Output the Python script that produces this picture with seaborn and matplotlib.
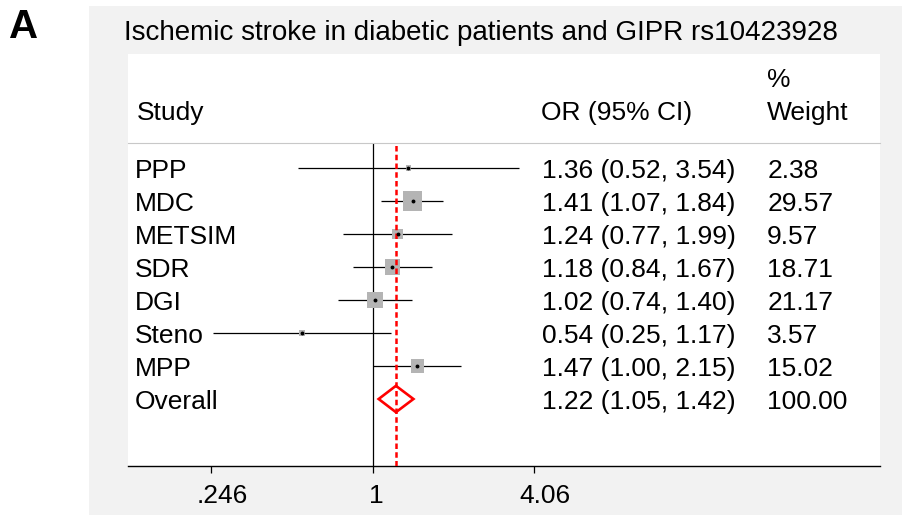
import numpy as np
import matplotlib.pyplot as plt
import matplotlib.transforms as mtransforms
from matplotlib.patches import Rectangle, Polygon
import seaborn as sns

# data
studies = ["PPP", "MDC", "METSIM", "SDR", "DGI", "Steno", "MPP"]
or_est = [1.36, 1.41, 1.24, 1.18, 1.02, 0.54, 1.47]
ci_low = [0.52, 1.07, 0.77, 0.84, 0.74, 0.25, 1.00]
ci_high = [3.54, 1.84, 1.99, 1.67, 1.40, 1.17, 2.15]
weights = [2.38, 29.57, 9.57, 18.71, 21.17, 3.57, 15.02]
overall_label = "Overall"
overall_or = 1.22
overall_low = 1.05
overall_high = 1.42
overall_weight = 100.00
tick_vals = [0.246, 1, 4.06]
tick_labels = [".246", "1", "4.06"]

sns.set_theme(style="white")
plt.rcParams['font.family'] = ['Liberation Sans', 'DejaVu Sans']
plt.rcParams['text.color'] = 'black'
plt.rcParams['xtick.color'] = 'black'

W, H = 903, 515
fig = plt.figure(figsize=(W / 100, H / 100), dpi=100)
fig.patch.set_facecolor("white")


def fx(px):
    return px / W


def fy(py):
    return 1 - py / H


# gray graph region and white plot region
fig.add_artist(Rectangle((fx(89), 0), 1 - fx(89), fy(6), transform=fig.transFigure,
                         facecolor="#f2f2f2", edgecolor="none", zorder=-2))
fig.add_artist(Rectangle((fx(128), fy(466)), fx(880) - fx(128), fy(54) - fy(466),
                         transform=fig.transFigure, facecolor="white", edgecolor="none", zorder=-1))

ax = fig.add_axes([fx(128), fy(466), fx(880) - fx(128), fy(143) - fy(466)])
ax.patch.set_alpha(0)

rows = np.arange(1, len(studies) + 1)
overall_row = len(studies) + 1

ax.set_xscale("log")
ax.set_xlim(0.1192, 81.5)
ax.set_ylim(overall_row + 2.03, 1 - 25 / 33)

# reference lines
ax.axvline(1, color="black", lw=0.9, zorder=1)
ax.axvline(overall_or, color="#ff0000", lw=1.8, dashes=(2.2, 1.3), zorder=4)

# confidence intervals
ax.hlines(rows, ci_low, ci_high, color="black", lw=0.9, zorder=2)

# weight boxes
k = (3.5 * 0.72) ** 2
sns.scatterplot(x=or_est, y=rows, size=weights, sizes=(k * min(weights), k * max(weights)),
                size_norm=(min(weights), max(weights)), marker="s", color="#b4b4b4",
                edgecolor="none", legend=False, ax=ax, zorder=3)
ax.plot(or_est, rows, "o", color="black", ms=1.8, zorder=5)

# overall diamond
diamond = Polygon([(overall_low, overall_row), (overall_or, overall_row - 0.4),
                   (overall_high, overall_row), (overall_or, overall_row + 0.4)],
                  closed=True, fill=False, edgecolor="#ff0000", lw=1.9, zorder=6)
ax.add_patch(diamond)

# text columns
trans = mtransforms.blended_transform_factory(ax.transAxes, ax.transData)
shift = 9.5 / 33
fs = 19
labels = studies + [overall_label]
ors = or_est + [overall_or]
lows = ci_low + [overall_low]
highs = ci_high + [overall_high]
wts = weights + [overall_weight]
for i, name in enumerate(labels):
    y = i + 1 + shift
    ax.text(0.0095, y, name, transform=trans, va="baseline", ha="left", fontsize=fs)
    ax.text(0.550, y, f"{ors[i]:.2f} ({lows[i]:.2f}, {highs[i]:.2f})", transform=trans,
            va="baseline", ha="left", fontsize=fs)
    ax.text(0.850, y, f"{wts[i]:.2f}", transform=trans, va="baseline", ha="left", fontsize=fs)

# header
fig.text(fx(137), fy(120), "Study", va="baseline", ha="left", fontsize=fs)
fig.text(fx(541), fy(120), "OR (95% CI)", va="baseline", ha="left", fontsize=fs)
fig.text(fx(767), fy(87), "%", va="baseline", ha="left", fontsize=fs)
fig.text(fx(767), fy(120), "Weight", va="baseline", ha="left", fontsize=fs)
fig.text(fx(124), fy(40), "Ischemic stroke in diabetic patients and GIPR rs10423928",
         va="baseline", ha="left", fontsize=20)
fig.text(fx(9), fy(38), "A", va="baseline", ha="left", fontsize=29, fontweight="bold")

# axes styling
for side in ["left", "right"]:
    ax.spines[side].set_visible(False)
ax.spines["top"].set_color("#c8c8c8")
ax.spines["top"].set_linewidth(0.8)
ax.spines["bottom"].set_color("black")
ax.spines["bottom"].set_linewidth(1.0)
ax.set_yticks([])
ax.set_xticks(tick_vals)
ax.set_xticklabels(tick_labels)
ax.xaxis.set_minor_locator(plt.NullLocator())
ax.tick_params(axis="x", which="major", bottom=True, length=5, width=0.9, color="black",
               pad=8, labelsize=fs, labelcolor="black")
# the original's labels sit a little right of their ticks
for lab, dx in zip(ax.get_xticklabels(), [11, 3, 10]):
    lab.set_transform(lab.get_transform() + mtransforms.ScaledTranslation(dx / 100, 0, fig.dpi_scale_trans))
ax.set_xlabel("")
ax.set_ylabel("")

fig.savefig("out.png", dpi=100)
